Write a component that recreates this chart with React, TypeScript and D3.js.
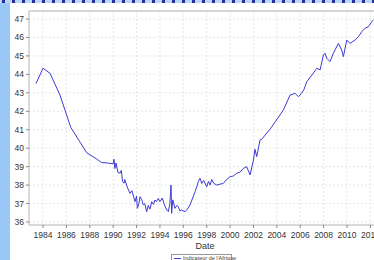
import React from "react";
import * as d3 from "d3";

const years: number[] = [
  1983.4, 1984.0, 1984.6, 1985.45, 1986.37, 1987.74, 1988.6, 1989.0, 1989.5, 1990.0,
  1990.07, 1990.15, 1990.25, 1990.4, 1990.59, 1990.7, 1990.8, 1990.93, 1991.0, 1991.2,
  1991.44, 1991.6, 1991.87, 1992.0, 1992.07, 1992.2, 1992.3, 1992.45, 1992.58, 1992.7,
  1992.87, 1993.0, 1993.15, 1993.3, 1993.45, 1993.58, 1993.7, 1993.86, 1994.0, 1994.2,
  1994.4, 1994.58, 1994.72, 1994.85, 1994.95, 1995.0, 1995.1, 1995.29, 1995.45, 1995.57,
  1995.7, 1995.86, 1996.0, 1996.15, 1996.35, 1996.57, 1996.8, 1997.0, 1997.15, 1997.28,
  1997.43, 1997.58, 1997.75, 1998.0, 1998.15, 1998.3, 1998.43, 1998.6, 1998.86, 1999.14,
  1999.42, 1999.7, 1999.99, 2000.3, 2000.57, 2000.85, 2001.13, 2001.42, 2001.71, 2002.0,
  2002.13, 2002.28, 2002.56, 2002.7, 2003.5, 2004.27, 2004.56, 2005.13, 2005.56, 2005.84,
  2005.98, 2006.3, 2006.56, 2006.99, 2007.27, 2007.42, 2007.7, 2007.98, 2008.12, 2008.27,
  2008.55, 2008.83, 2009.26, 2009.55, 2009.69, 2009.98, 2010.26, 2010.69, 2010.97, 2011.26,
  2011.54, 2011.82, 2012.12, 2012.26,
];

const values: number[] = [
  43.5, 44.33, 44.06, 42.88, 41.13, 39.75, 39.41, 39.22, 39.2, 39.15,
  39.4, 38.9, 39.2, 38.7, 38.64, 38.8, 38.2, 38.1, 38.3, 37.9,
  37.55, 37.7, 37.1, 37.4, 36.74, 37.0, 37.37, 37.2, 36.92, 37.0,
  36.56, 36.9, 36.7, 37.1, 36.95, 37.19, 37.1, 37.28, 37.1, 37.3,
  36.9, 36.65, 36.56, 37.0, 38.0, 36.47, 37.2, 36.74, 36.9, 36.83,
  36.6, 36.65, 36.6, 36.56, 36.7, 36.92, 37.3, 37.64, 37.9, 38.18,
  38.37, 38.09, 38.25, 37.9, 38.2, 38.0, 38.3, 38.1, 38.0, 38.05,
  38.09, 38.3, 38.45, 38.5, 38.64, 38.7, 38.9, 39.0, 38.55, 39.36,
  39.94, 39.54, 40.44, 40.48, 41.1, 41.8, 42.07, 42.88, 42.97, 42.79,
  42.88, 43.15, 43.6, 43.96, 44.2, 44.33, 44.24, 45.05, 45.14, 44.87,
  44.69, 45.14, 45.68, 45.32, 44.96, 45.86, 45.68, 45.86, 46.04, 46.31,
  46.5, 46.58, 46.85, 46.95,
];

const xTicks: number[] = [1984, 1986, 1988, 1990, 1992, 1994, 1996, 1998, 2000, 2002, 2004, 2006, 2008, 2010, 2012];
const yTicks: number[] = [36, 37, 38, 39, 40, 41, 42, 43, 44, 45, 46, 47];
const xTitle = "Date";
const seriesName = "Indicateur de l'Afrique";

export default function App() {
  const W = 374;
  const H = 260;
  const left = 29;
  const top = 11;
  const bottom = 225;
  const right = 390;

  const x = d3.scaleLinear().domain([1984, 2010]).range([43, 347]);
  const y = d3.scaleLinear().domain([36, 47]).range([222, 19]);

  const data = years.map((yr, i) => ({ yr, v: values[i] }));
  const line = d3
    .line<{ yr: number; v: number }>()
    .x((d) => x(d.yr))
    .y((d) => y(d.v));

  const font = "'Liberation Sans', Arial, sans-serif";

  return (
    <svg
      width={W}
      height={H}
      style={{ position: "absolute", left: 0, top: 0, background: "#fff" }}
      fontFamily={font}
    >
      <rect x={0} y={0} width={W} height={H} fill="#fff" />
      {/* top dashed strip */}
      <rect x={0} y={0} width={W} height={3} fill="#b8d8f8" />
      <line x1={2} x2={W} y1={1.5} y2={1.5} stroke="#2c2c9c" strokeWidth={3} strokeDasharray="3,7" />
      {/* left bar */}
      <rect x={0} y={3} width={10} height={H - 3} fill="#9bc9f7" />

      {/* grid */}
      {xTicks.map((t) => (
        <line key={"gx" + t} x1={x(t)} x2={x(t)} y1={top} y2={bottom} stroke="#e6e6e6" strokeWidth={1} strokeDasharray="2,2" />
      ))}
      {yTicks.map((t) => (
        <line key={"gy" + t} x1={left} x2={right} y1={y(t)} y2={y(t)} stroke="#e6e6e6" strokeWidth={1} strokeDasharray="2,2" />
      ))}

      {/* frame */}
      <line x1={left} x2={right} y1={top} y2={top} stroke="#d6d6d6" strokeWidth={2} />
      <line x1={left} x2={left} y1={top} y2={bottom} stroke="#b4b4b4" strokeWidth={1} />
      <line x1={left} x2={right} y1={bottom} y2={bottom} stroke="#b4b4b4" strokeWidth={1} />

      {/* y axis */}
      {yTicks.map((t) => (
        <g key={"yt" + t}>
          <line x1={left - 3} x2={left} y1={y(t)} y2={y(t)} stroke="#888" />
          <text x={left - 5} y={y(t) + 3} textAnchor="end" fontSize={8.5} fill="#333">
            {t}
          </text>
        </g>
      ))}

      {/* x axis */}
      {xTicks.map((t) => (
        <g key={"xt" + t}>
          <line x1={x(t)} x2={x(t)} y1={bottom} y2={bottom + 3} stroke="#888" />
          <text x={x(t)} y={238} textAnchor="middle" fontSize={8.5} fill="#333">
            {t}
          </text>
        </g>
      ))}
      <text x={205} y={249} textAnchor="middle" fontSize={9} fill="#333">
        {xTitle}
      </text>

      {/* series */}
      <path d={line(data) ?? ""} fill="none" stroke="#3b3bd6" strokeWidth={1} />

      {/* legend */}
      <rect x={171.5} y={254.5} width={60} height={12} fill="#fff" stroke="#999" />
      <line x1={174} x2={181} y1={258.5} y2={258.5} stroke="#3b3bd6" />
      <text x={183} y={260} fontSize={5.5} fill="#444">
        {seriesName}
      </text>
    </svg>
  );
}
